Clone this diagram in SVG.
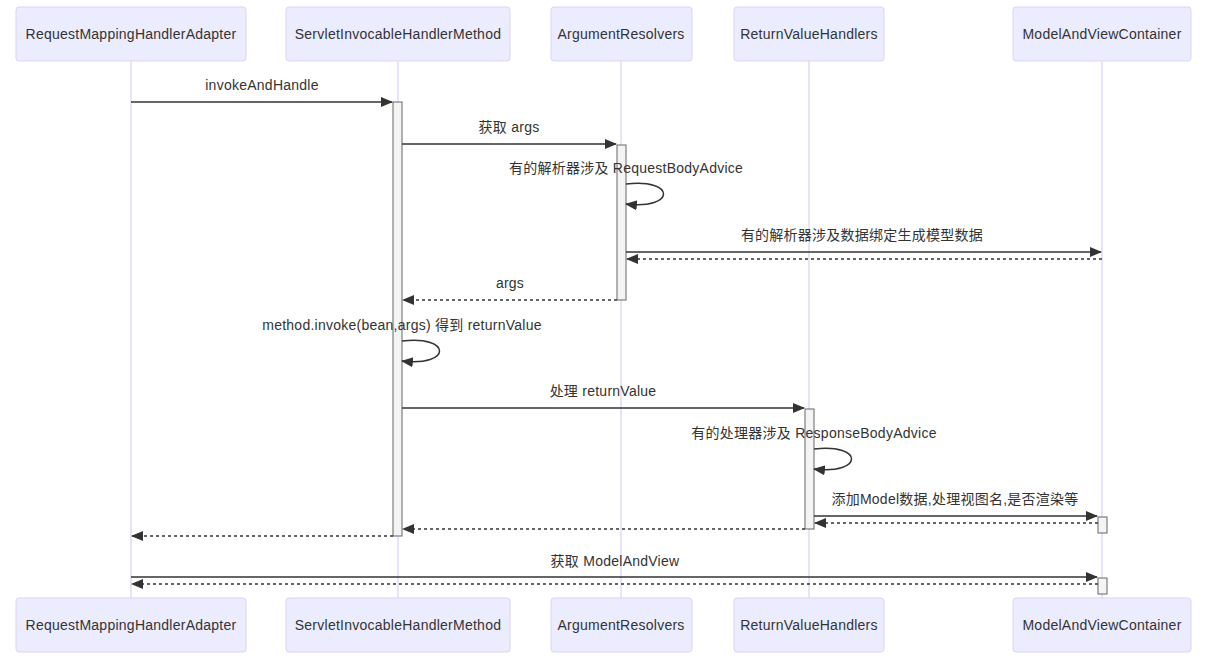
<svg xmlns="http://www.w3.org/2000/svg" width="1215" height="663" viewBox="0 0 1215 663">
<style>
.actor{fill:#ECECFF;stroke:#DCD3F5;stroke-width:1}
.life{stroke:#D9D0F5;stroke-width:1.2}
.act{fill:#F4F4F4;stroke:#666;stroke-width:1}
.msg{stroke:#333;stroke-width:1.5;fill:none}
.dash{stroke:#333;stroke-width:1.5;fill:none;stroke-dasharray:3,3}
text{font-family:"Liberation Sans","Noto Sans CJK SC",sans-serif;font-size:14px;letter-spacing:0.25px;fill:#333;text-anchor:middle}
</style>
<defs>
<marker id="ah" markerWidth="12" markerHeight="12" viewBox="0 0 12 10" refX="11" refY="5" orient="auto" markerUnits="userSpaceOnUse">
<path d="M0,0 L12,5 L0,10 z" fill="#333"/>
</marker>
</defs>
<g id="lifelines">
<line class="life" x1="131" y1="61" x2="131" y2="598"/>
<line class="life" x1="398" y1="61" x2="398" y2="598"/>
<line class="life" x1="621" y1="61" x2="621" y2="598"/>
<line class="life" x1="809" y1="61" x2="809" y2="598"/>
<line class="life" x1="1102" y1="61" x2="1102" y2="598"/>
</g>
<g id="actor-RMHA-top"><rect class="actor" x="16" y="7" width="230" height="54" rx="3"/><text x="131" y="39">RequestMappingHandlerAdapter</text></g>
<g id="actor-SIHM-top"><rect class="actor" x="286" y="7" width="224" height="54" rx="3"/><text x="398" y="39">ServletInvocableHandlerMethod</text></g>
<g id="actor-AR-top"><rect class="actor" x="551" y="7" width="141" height="54" rx="3"/><text x="621" y="39">ArgumentResolvers</text></g>
<g id="actor-RVH-top"><rect class="actor" x="734" y="7" width="150" height="54" rx="3"/><text x="809" y="39">ReturnValueHandlers</text></g>
<g id="actor-MAVC-top"><rect class="actor" x="1013" y="7" width="178" height="54" rx="3"/><text x="1102" y="39">ModelAndViewContainer</text></g>
<g id="actor-RMHA-bottom"><rect class="actor" x="16" y="598" width="230" height="54" rx="3"/><text x="131" y="630">RequestMappingHandlerAdapter</text></g>
<g id="actor-SIHM-bottom"><rect class="actor" x="286" y="598" width="224" height="54" rx="3"/><text x="398" y="630">ServletInvocableHandlerMethod</text></g>
<g id="actor-AR-bottom"><rect class="actor" x="551" y="598" width="141" height="54" rx="3"/><text x="621" y="630">ArgumentResolvers</text></g>
<g id="actor-RVH-bottom"><rect class="actor" x="734" y="598" width="150" height="54" rx="3"/><text x="809" y="630">ReturnValueHandlers</text></g>
<g id="actor-MAVC-bottom"><rect class="actor" x="1013" y="598" width="178" height="54" rx="3"/><text x="1102" y="630">ModelAndViewContainer</text></g>
<g id="activations">
<rect class="act" x="393" y="102" width="9" height="434"/>
<rect class="act" x="617" y="145" width="9" height="155"/>
<rect class="act" x="805" y="409" width="9" height="120"/>
<rect class="act" x="1098" y="517" width="9" height="16"/>
<rect class="act" x="1098" y="578" width="9" height="16"/>
</g>
<g id="connectors">
<line class="msg" x1="131" y1="102" x2="392" y2="102" marker-end="url(#ah)"/>
<line class="msg" x1="402" y1="144" x2="616" y2="144" marker-end="url(#ah)"/>
<path class="msg" d="M626,184 C676,178 676,210 626,204" marker-end="url(#ah)"/>
<line class="msg" x1="626" y1="252" x2="1101" y2="252" marker-end="url(#ah)"/>
<line class="dash" x1="1102" y1="259" x2="627" y2="259" marker-end="url(#ah)"/>
<line class="dash" x1="617" y1="300" x2="403" y2="300" marker-end="url(#ah)"/>
<path class="msg" d="M402,341 C452,335 452,367 402,361" marker-end="url(#ah)"/>
<line class="msg" x1="402" y1="408" x2="804" y2="408" marker-end="url(#ah)"/>
<path class="msg" d="M814,449 C864,443 864,475 814,469" marker-end="url(#ah)"/>
<line class="msg" x1="814" y1="516" x2="1097" y2="516" marker-end="url(#ah)"/>
<line class="dash" x1="1098" y1="523" x2="815" y2="523" marker-end="url(#ah)"/>
<line class="dash" x1="805" y1="529" x2="403" y2="529" marker-end="url(#ah)"/>
<line class="dash" x1="393" y1="536" x2="132" y2="536" marker-end="url(#ah)"/>
<line class="msg" x1="131" y1="577" x2="1097" y2="577" marker-end="url(#ah)"/>
<line class="dash" x1="1098" y1="584" x2="132" y2="584" marker-end="url(#ah)"/>
</g>
<g id="labels">
<text x="262" y="90">invokeAndHandle</text>
<text x="509" y="132">获取 args</text>
<text x="626" y="173">有的解析器涉及 RequestBodyAdvice</text>
<text x="862" y="240">有的解析器涉及数据绑定生成模型数据</text>
<text x="510" y="288">args</text>
<text x="402" y="330">method.invoke(bean,args) 得到 returnValue</text>
<text x="603" y="396">处理 returnValue</text>
<text x="814" y="438">有的处理器涉及 ResponseBodyAdvice</text>
<text x="955" y="504">添加Model数据,处理视图名,是否渲染等</text>
<text x="615" y="566">获取 ModelAndView</text>
</g>
</svg>
